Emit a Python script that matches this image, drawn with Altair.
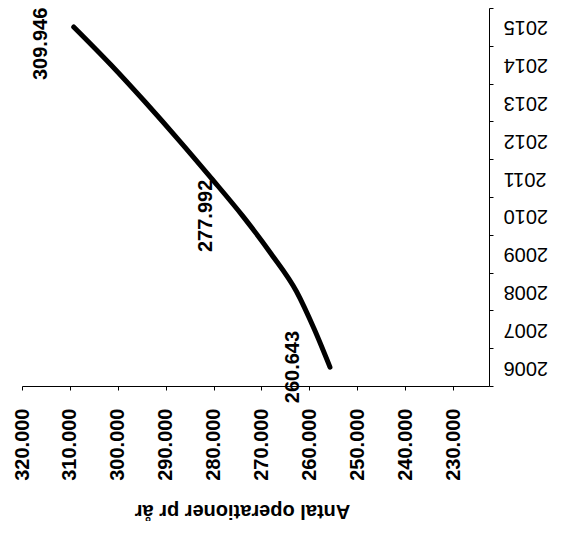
import altair as alt
import pandas as pd

years = [2006, 2007, 2008, 2009, 2010, 2011, 2012, 2013, 2014, 2015]
operations = [255700, 258970, 262690, 268000, 273940, 280490, 287220, 294190, 301450, 309200]
label_years = [2006, 2010, 2015]
label_texts = ["260.643", "277.992", "309.946"]
value_ticks = [230000, 240000, 250000, 260000, 270000, 280000, 290000, 300000, 310000, 320000]
x_domain = [222500, 320000]
axis_title = "Antal operationer pr år"

lab = dict(zip(label_years, label_texts))
df = pd.DataFrame({
    "year": [str(y) for y in years],
    "value": operations,
    "label": [lab.get(y, "") for y in years],
})

FONT = "Liberation Sans"

x = alt.X(
    "value:Q",
    scale=alt.Scale(domain=x_domain, reverse=True, nice=False, zero=False),
    axis=alt.Axis(
        orient="bottom", values=value_ticks,
        labelExpr="replace(format(datum.value, ','), ',', '.')",
        labelAngle=270, labelAlign="right", labelBaseline="middle",
        labelFont=FONT, labelFontSize=20, labelFontWeight="bold", labelColor="black",
        labelPadding=18, labelOverlap=False, labelFlush=False,
        tickSize=4, tickColor="black", domainColor="black", grid=False,
        title=axis_title, titleFont=FONT, titleFontSize=20, titleFontWeight="bold",
        titleColor="black", titleAngle=180, titleX=220, titleY=124,
        titleAlign="center", titleBaseline="middle",
    ),
)
y = alt.Y(
    "year:O", sort="descending",
    scale=alt.Scale(type="band", paddingInner=0, paddingOuter=0),
    axis=alt.Axis(
        orient="right", labelAngle=180, labelAlign="right", labelBaseline="middle",
        labelFont=FONT, labelFontSize=20, labelColor="black", labelPadding=10,
        tickSize=4, tickBand="extent", tickColor="black", domainColor="black",
        title=None, grid=False,
    ),
)

base = alt.Chart(df).encode(x=x, y=y)

line = base.mark_line(color="black", strokeWidth=5, interpolate="monotone", strokeCap="round")

labels = base.transform_filter("datum.label != '' && datum.year != '2015'").mark_text(
    angle=270, dy=-37, font=FONT, fontSize=20, fontWeight="bold", color="black",
    align="center", baseline="middle",
).encode(text="label:N")

top_label = base.transform_filter("datum.year == '2015' && datum.label != ''").mark_text(
    angle=270, dy=-33, dx=-17, font=FONT, fontSize=20, fontWeight="bold", color="black",
    align="center", baseline="middle",
).encode(text="label:N")

chart = alt.layer(line, labels, top_label).properties(
    width=467, height=378,
    padding={"left": 14, "top": 0, "right": 62, "bottom": 135},
    autosize=alt.AutoSizeParams(type="none"),
).configure_view(strokeWidth=0)

chart.save("out.html", embed_options={"renderer": "svg", "actions": False})
